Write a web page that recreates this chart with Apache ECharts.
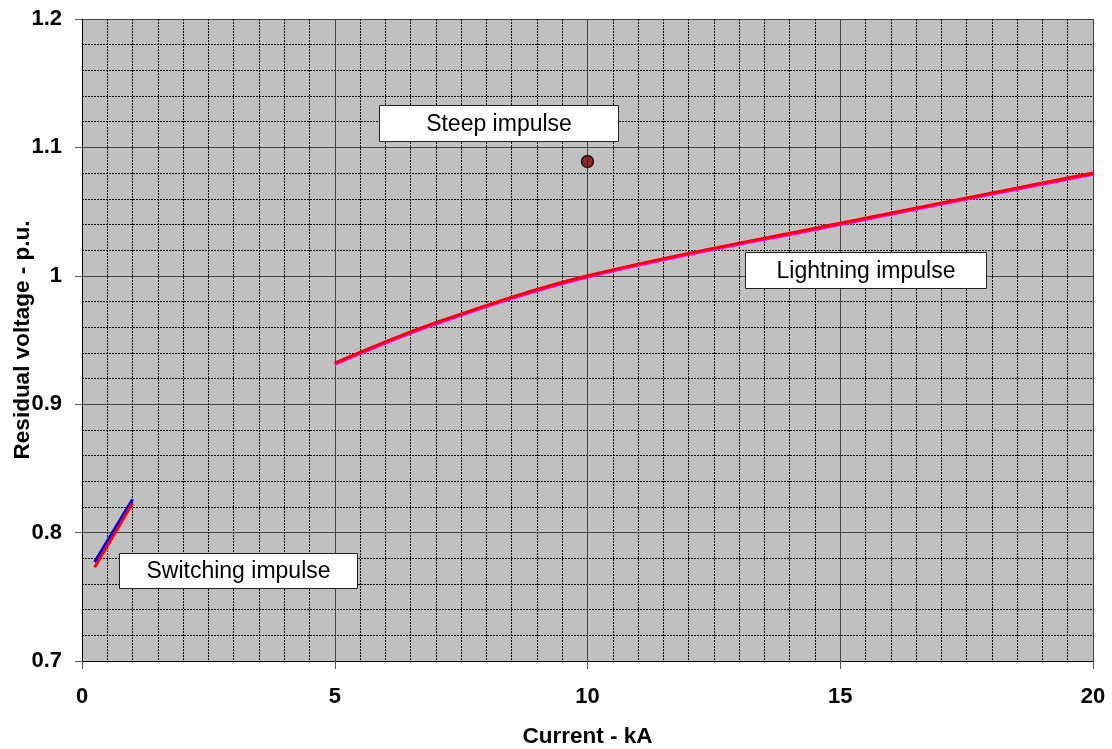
<!DOCTYPE html>
<html>
<head>
<meta charset="utf-8">
<script src="https://cdn.jsdelivr.net/npm/echarts@6/dist/echarts.min.js"></script>
<style>
html,body{margin:0;padding:0;background:#fff;}
#chart{width:1112px;height:749px;}
</style>
</head>
<body>
<div id="chart"></div>
<script>
// ---- data ----
const switchingBlueX = [0.25, 1.0];
const switchingBlueY = [0.777, 0.826];
const switchingRedX = [0.25, 1.0];
const switchingRedY = [0.773, 0.823];
const lightningX = [5, 7, 10, 15, 20];
const lightningRedY = [0.932, 0.9635, 1.0, 1.041, 1.080];
const lightningMagentaY = [0.931, 0.9625, 0.999, 1.040, 1.079];
const steepX = [10];
const steepY = [1.089];
const labels = ["Steep impulse", "Lightning impulse", "Switching impulse"];

function pairs(xs, ys){ return xs.map((x,i)=>[x, ys[i]]); }

const chart = echarts.init(document.getElementById('chart'));
const FONT = '"Liberation Sans", Arial, sans-serif';

function box(text, left, top, w, h){
  return {
    type:'group', left:left, top:top, z:100,
    children:[
      {type:'rect', z:100, shape:{x:0,y:0,width:w,height:h}, style:{fill:'#fff', stroke:'#222', lineWidth:1}},
      {type:'text', z:101, x:w/2, y:h/2+1, style:{text:text, fill:'#000', fontFamily:FONT, fontSize:23, align:'center', verticalAlign:'middle'}}
    ]
  };
}

chart.setOption({
  animation:false,
  backgroundColor:'#fff',
  grid:{left:82, right:19, top:19, bottom:88, containLabel:false, outerBoundsMode:'none',
        show:true, backgroundColor:'#c0c0c0', borderWidth:0},
  xAxis:{
    type:'value', min:0, max:20, interval:5,
    name:'Current - kA', nameLocation:'middle', nameGap:64, nameMoveOverlap:false,
    nameTextStyle:{fontFamily:FONT, fontWeight:'bold', fontSize:22.5, color:'#000'},
    axisLine:{show:true, onZero:false, lineStyle:{color:'#000', width:1}},
    axisTick:{show:true, length:8, lineStyle:{color:'#555'}},
    axisLabel:{margin:25, fontFamily:FONT, fontWeight:'bold', fontSize:22, color:'#000'},
    splitLine:{show:true, lineStyle:{color:'#444', width:1}},
    minorTick:{show:false, splitNumber:10},
    minorSplitLine:{show:true, lineStyle:{color:'#111', width:1, type:[2,1]}}
  },
  yAxis:{
    type:'value', min:0.7, max:1.2, interval:0.1,
    name:'Residual voltage - p.u.', nameLocation:'middle', nameGap:48, nameMoveOverlap:false,
    nameTextStyle:{fontFamily:FONT, fontWeight:'bold', fontSize:22.5, color:'#000'},
    axisLine:{show:true, onZero:false, lineStyle:{color:'#000', width:1}},
    axisTick:{show:true, length:7, lineStyle:{color:'#555'}},
    axisLabel:{margin:20, fontFamily:FONT, fontWeight:'bold', fontSize:22, color:'#000',
      formatter:(v)=>String(Math.round(v*10)/10)},
    splitLine:{show:true, lineStyle:{color:'#444', width:1}},
    minorTick:{show:false, splitNumber:5},
    minorSplitLine:{show:true, lineStyle:{color:'#111', width:1, type:[2,1]}}
  },
  series:[
    {type:'line', data:pairs(switchingBlueX, switchingBlueY), showSymbol:false, lineStyle:{color:'#0000ff', width:3}, z:3},
    {type:'line', data:pairs(switchingRedX, switchingRedY), showSymbol:false, lineStyle:{color:'#ff0000', width:3}, z:4},
    {type:'line', data:pairs(lightningX, lightningMagentaY), showSymbol:false, smooth:0.35, lineStyle:{color:'#ff00ff', width:3}, z:3},
    {type:'line', data:pairs(lightningX, lightningRedY), showSymbol:false, smooth:0.35, lineStyle:{color:'#ff0000', width:3}, z:4},
    {type:'scatter', data:pairs(steepX, steepY), symbol:'circle', symbolSize:12,
      itemStyle:{color:'#800000', borderColor:'#000', borderWidth:1.5}, z:5}
  ],
  graphic:[
    box(labels[0], 379, 105, 239, 36),
    box(labels[1], 745, 252, 241, 36),
    box(labels[2], 119, 553, 238, 35)
  ]
});
</script>
</body>
</html>
